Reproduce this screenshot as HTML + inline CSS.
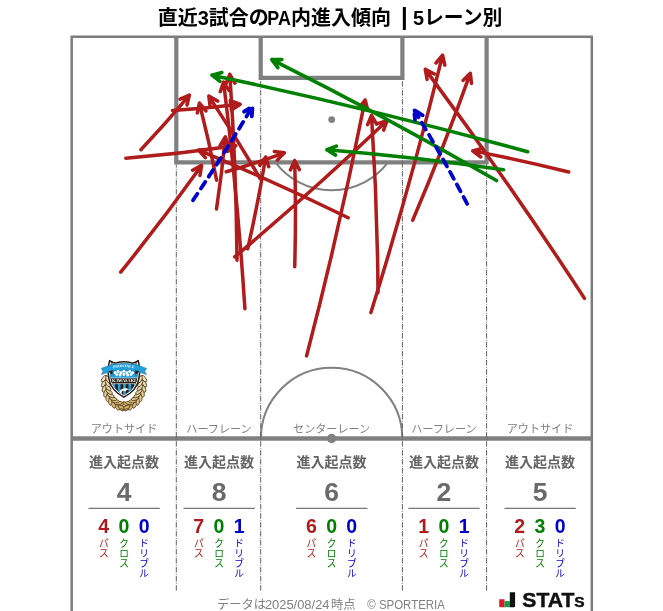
<!DOCTYPE html>
<html lang="ja">
<head>
<meta charset="utf-8">
<title>直近3試合のPA内進入傾向 | 5レーン別</title>
<style>
html,body{margin:0;padding:0;background:#fff;}
body{width:663px;height:611px;position:relative;overflow:hidden;font-family:"Liberation Sans", "Noto Sans CJK JP", sans-serif;}
</style>
</head>
<body>
<svg width="663" height="611" viewBox="0 0 663 611" style="display:block;position:absolute;left:0;top:0;will-change:transform">
<rect x="0" y="0" width="663" height="611" fill="#ffffff"/>
<g fill="none" stroke="#808080" stroke-linecap="butt" stroke-linejoin="miter">
<path d="M 260.9 438.5 A 70.7 70.7 0 0 1 402.3 438.5" stroke-width="2"/>
<path d="M 275.4 162.3 A 70.7 70.7 0 0 0 388.0 162.3" stroke-width="2"/>
<path d="M 71.7 616 L 71.7 36.75 L 591.8 36.75 L 591.8 616" stroke-width="2.5" stroke="#7c7c7c"/>
<path d="M 71.7 438.5 L 591.8 438.5" stroke-width="4.5"/>
<path d="M 176.3 36.75 L 176.3 162.3 L 486.6 162.3 L 486.6 36.75" stroke-width="4.2"/>
<path d="M 260.7 36.75 L 260.7 77.8 L 402.4 77.8 L 402.4 36.75" stroke-width="4.2"/>
</g>
<circle cx="331.7" cy="119.6" r="3.4" fill="#808080"/>
<circle cx="331.6" cy="438.5" r="4.7" fill="#808080"/>
<g fill="none" stroke="#606060" stroke-width="1.0" stroke-dasharray="5.43 1.36 0.85 1.36">
<path d="M 176.3 590.5 L 176.3 164.5"/>
<path d="M 486.6 590.5 L 486.6 164.5"/>
<path d="M 260.7 590.5 L 260.7 80.0"/>
<path d="M 402.4 590.5 L 402.4 80.0"/>
</g>
<path d="M 140.9 149.7 Q 166.0 123.2 189.4 95.1 M 187.0 105.0 L 189.4 95.1 L 180.1 99.2" fill="none" stroke="#b01b1b" stroke-width="3.5" stroke-linecap="round" stroke-linejoin="round"/>
<path d="M 125.8 158.2 Q 181.0 153.6 235.8 145.7 M 227.4 151.5 L 235.8 145.7 L 226.1 142.6" fill="none" stroke="#b01b1b" stroke-width="3.5" stroke-linecap="round" stroke-linejoin="round"/>
<path d="M 231.5 109.9 L 240.0 104.3 L 230.4 100.9 Z" fill="#b01b1b" stroke="#b01b1b" stroke-width="3.5" stroke-linejoin="round"/>
<path d="M 172.5 110.5 Q 206.3 108.4 240.0 104.3 M 231.5 109.9 L 240.0 104.3 L 230.4 100.9" fill="none" stroke="#b01b1b" stroke-width="3.5" stroke-linecap="round" stroke-linejoin="round"/>
<path d="M 120.7 272.2 Q 162.7 220.0 201.6 165.4 M 200.0 175.5 L 201.6 165.4 L 192.6 170.2" fill="none" stroke="#b01b1b" stroke-width="3.5" stroke-linecap="round" stroke-linejoin="round"/>
<path d="M 216.5 208.9 Q 222.0 173.0 225.3 136.9 M 229.0 146.4 L 225.3 136.9 L 220.0 145.6" fill="none" stroke="#b01b1b" stroke-width="3.5" stroke-linecap="round" stroke-linejoin="round"/>
<path d="M 244.9 308.7 Q 237.6 195.1 223.6 82.1 M 229.2 90.6 L 223.6 82.1 L 220.3 91.7" fill="none" stroke="#b01b1b" stroke-width="3.5" stroke-linecap="round" stroke-linejoin="round"/>
<path d="M 237.0 260.3 Q 236.2 167.2 229.8 74.3 M 234.9 83.1 L 229.8 74.3 L 226.0 83.7" fill="none" stroke="#b01b1b" stroke-width="3.5" stroke-linecap="round" stroke-linejoin="round"/>
<path d="M 234.7 256.9 Q 313.0 191.0 387.1 120.6 M 383.6 130.1 L 387.1 120.6 L 377.4 123.6" fill="none" stroke="#b01b1b" stroke-width="3.5" stroke-linecap="round" stroke-linejoin="round"/>
<path d="M 247.7 248.8 Q 258.1 203.2 265.7 157.0 M 268.7 166.7 L 265.7 157.0 L 259.8 165.3" fill="none" stroke="#b01b1b" stroke-width="3.5" stroke-linecap="round" stroke-linejoin="round"/>
<path d="M 226.2 171.8 Q 255.6 163.2 284.4 152.8 M 277.3 160.1 L 284.4 152.8 L 274.3 151.6" fill="none" stroke="#b01b1b" stroke-width="3.5" stroke-linecap="round" stroke-linejoin="round"/>
<path d="M 216.6 180.2 Q 209.2 141.4 199.4 103.1 M 206.0 110.8 L 199.4 103.1 L 197.3 113.0" fill="none" stroke="#b01b1b" stroke-width="3.5" stroke-linecap="round" stroke-linejoin="round"/>
<path d="M 260.1 178.5 Q 235.7 136.5 208.8 96.1 M 217.6 101.1 L 208.8 96.1 L 210.1 106.1" fill="none" stroke="#b01b1b" stroke-width="3.5" stroke-linecap="round" stroke-linejoin="round"/>
<path d="M 294.7 266.8 Q 296.2 213.7 294.7 160.6 M 299.4 169.6 L 294.7 160.6 L 290.4 169.9" fill="none" stroke="#b01b1b" stroke-width="3.5" stroke-linecap="round" stroke-linejoin="round"/>
<path d="M 306.6 355.9 Q 339.7 228.8 365.1 100.0 M 367.7 109.8 L 365.1 100.0 L 358.9 108.1" fill="none" stroke="#b01b1b" stroke-width="3.5" stroke-linecap="round" stroke-linejoin="round"/>
<path d="M 378.0 292.7 Q 377.4 203.9 371.5 115.3 M 376.6 124.1 L 371.5 115.3 L 367.6 124.7" fill="none" stroke="#b01b1b" stroke-width="3.5" stroke-linecap="round" stroke-linejoin="round"/>
<path d="M 370.9 312.6 Q 410.6 185.0 442.6 55.2 M 444.8 65.1 L 442.6 55.2 L 436.0 63.0" fill="none" stroke="#b01b1b" stroke-width="3.5" stroke-linecap="round" stroke-linejoin="round"/>
<path d="M 348.2 217.8 Q 274.4 181.7 198.6 150.1 M 208.7 149.4 L 198.6 150.1 L 205.3 157.7" fill="none" stroke="#b01b1b" stroke-width="3.5" stroke-linecap="round" stroke-linejoin="round"/>
<path d="M 412.7 220.2 Q 443.7 147.6 470.3 73.3 M 471.5 83.4 L 470.3 73.3 L 463.0 80.4" fill="none" stroke="#b01b1b" stroke-width="3.5" stroke-linecap="round" stroke-linejoin="round"/>
<path d="M 584.5 298.4 Q 508.4 181.5 425.3 69.4 M 434.4 74.0 L 425.3 69.4 L 427.1 79.4" fill="none" stroke="#b01b1b" stroke-width="3.5" stroke-linecap="round" stroke-linejoin="round"/>
<path d="M 568.7 172.0 Q 521.0 160.0 472.7 150.9 M 482.5 148.2 L 472.7 150.9 L 480.8 157.0" fill="none" stroke="#b01b1b" stroke-width="3.5" stroke-linecap="round" stroke-linejoin="round"/>
<path d="M 527.6 151.7 Q 371.0 108.7 212.0 75.2 M 221.8 72.6 L 212.0 75.2 L 220.0 81.4" fill="none" stroke="#008000" stroke-width="3.6" stroke-linecap="round" stroke-linejoin="round"/>
<path d="M 503.5 169.7 Q 415.5 157.1 326.9 149.8 M 336.4 146.1 L 326.9 149.8 L 335.6 155.1" fill="none" stroke="#008000" stroke-width="3.6" stroke-linecap="round" stroke-linejoin="round"/>
<path d="M 496.5 180.5 Q 385.9 116.7 271.8 59.6 M 281.9 59.6 L 271.8 59.6 L 277.9 67.7" fill="none" stroke="#008000" stroke-width="3.6" stroke-linecap="round" stroke-linejoin="round"/>
<path d="M 193.0 200.3 Q 224.2 154.1 252.6 106.2 M 251.8 116.3 L 252.6 106.2 L 244.1 111.7" fill="none" stroke="#0000cd" stroke-width="3.8" stroke-linecap="round" stroke-linejoin="round" stroke-dasharray="7.9 6.3"/>
<path d="M 467.2 203.9 Q 442.1 156.0 414.1 109.8 M 422.7 115.3 L 414.1 109.8 L 415.0 119.9" fill="none" stroke="#0000cd" stroke-width="3.8" stroke-linecap="round" stroke-linejoin="round" stroke-dasharray="7.9 6.3"/>
<g font-family='"Liberation Sans", "Noto Sans CJK JP", sans-serif'>
<text y="25.4" font-size="20" font-weight="700" fill="#000"><tspan x="157.7">直近3試合の</tspan><tspan x="267.3" textLength="23.6" lengthAdjust="spacingAndGlyphs">PA</tspan><tspan x="291.1">内進入傾向 </tspan><tspan x="401.0" font-size="24">|</tspan> <tspan x="413.0" textLength="89.4" lengthAdjust="spacingAndGlyphs">5レーン別</tspan></text>
<text x="124.0" y="432.6" font-size="11.1" fill="#7f7f7f" text-anchor="middle">アウトサイド</text>
<text x="124.0" y="466.8" font-size="14" font-weight="700" fill="#646464" text-anchor="middle">進入起点数</text>
<text x="124.0" y="500.9" font-size="26.5" font-weight="700" fill="#6a6a6a" text-anchor="middle">4</text>
<line x1="88.5" y1="508.3" x2="159.8" y2="508.3" stroke="#555" stroke-width="1"/>
<text x="103.8" y="533.0" font-size="19.5" font-weight="700" fill="#b01b1b" text-anchor="middle">4</text>
<text x="103.8" y="547.4" font-size="9.7" fill="#b01b1b" text-anchor="middle">パ</text>
<text x="103.8" y="557.1" font-size="9.7" fill="#b01b1b" text-anchor="middle">ス</text>
<text x="124.0" y="533.0" font-size="19.5" font-weight="700" fill="#008000" text-anchor="middle">0</text>
<text x="124.0" y="547.4" font-size="9.7" fill="#008000" text-anchor="middle">ク</text>
<text x="124.0" y="557.1" font-size="9.7" fill="#008000" text-anchor="middle">ロ</text>
<text x="124.0" y="566.8" font-size="9.7" fill="#008000" text-anchor="middle">ス</text>
<text x="144.2" y="533.0" font-size="19.5" font-weight="700" fill="#0000cd" text-anchor="middle">0</text>
<text x="144.2" y="547.4" font-size="9.7" fill="#0000cd" text-anchor="middle">ド</text>
<text x="144.2" y="557.1" font-size="9.7" fill="#0000cd" text-anchor="middle">リ</text>
<text x="144.2" y="566.8" font-size="9.7" fill="#0000cd" text-anchor="middle">ブ</text>
<text x="144.2" y="576.5" font-size="9.7" fill="#0000cd" text-anchor="middle">ル</text>
<text x="219.0" y="432.6" font-size="11.1" fill="#7f7f7f" text-anchor="middle">ハーフレーン</text>
<text x="219.0" y="466.8" font-size="14" font-weight="700" fill="#646464" text-anchor="middle">進入起点数</text>
<text x="219.0" y="500.9" font-size="26.5" font-weight="700" fill="#6a6a6a" text-anchor="middle">8</text>
<line x1="183.5" y1="508.3" x2="254.8" y2="508.3" stroke="#555" stroke-width="1"/>
<text x="198.8" y="533.0" font-size="19.5" font-weight="700" fill="#b01b1b" text-anchor="middle">7</text>
<text x="198.8" y="547.4" font-size="9.7" fill="#b01b1b" text-anchor="middle">パ</text>
<text x="198.8" y="557.1" font-size="9.7" fill="#b01b1b" text-anchor="middle">ス</text>
<text x="219.0" y="533.0" font-size="19.5" font-weight="700" fill="#008000" text-anchor="middle">0</text>
<text x="219.0" y="547.4" font-size="9.7" fill="#008000" text-anchor="middle">ク</text>
<text x="219.0" y="557.1" font-size="9.7" fill="#008000" text-anchor="middle">ロ</text>
<text x="219.0" y="566.8" font-size="9.7" fill="#008000" text-anchor="middle">ス</text>
<text x="239.2" y="533.0" font-size="19.5" font-weight="700" fill="#0000cd" text-anchor="middle">1</text>
<text x="239.2" y="547.4" font-size="9.7" fill="#0000cd" text-anchor="middle">ド</text>
<text x="239.2" y="557.1" font-size="9.7" fill="#0000cd" text-anchor="middle">リ</text>
<text x="239.2" y="566.8" font-size="9.7" fill="#0000cd" text-anchor="middle">ブ</text>
<text x="239.2" y="576.5" font-size="9.7" fill="#0000cd" text-anchor="middle">ル</text>
<text x="331.6" y="432.6" font-size="11.1" fill="#7f7f7f" text-anchor="middle">センターレーン</text>
<text x="331.6" y="466.8" font-size="14" font-weight="700" fill="#646464" text-anchor="middle">進入起点数</text>
<text x="331.6" y="500.9" font-size="26.5" font-weight="700" fill="#6a6a6a" text-anchor="middle">6</text>
<line x1="296.1" y1="508.3" x2="367.40000000000003" y2="508.3" stroke="#555" stroke-width="1"/>
<text x="311.4" y="533.0" font-size="19.5" font-weight="700" fill="#b01b1b" text-anchor="middle">6</text>
<text x="311.4" y="547.4" font-size="9.7" fill="#b01b1b" text-anchor="middle">パ</text>
<text x="311.4" y="557.1" font-size="9.7" fill="#b01b1b" text-anchor="middle">ス</text>
<text x="331.6" y="533.0" font-size="19.5" font-weight="700" fill="#008000" text-anchor="middle">0</text>
<text x="331.6" y="547.4" font-size="9.7" fill="#008000" text-anchor="middle">ク</text>
<text x="331.6" y="557.1" font-size="9.7" fill="#008000" text-anchor="middle">ロ</text>
<text x="331.6" y="566.8" font-size="9.7" fill="#008000" text-anchor="middle">ス</text>
<text x="351.8" y="533.0" font-size="19.5" font-weight="700" fill="#0000cd" text-anchor="middle">0</text>
<text x="351.8" y="547.4" font-size="9.7" fill="#0000cd" text-anchor="middle">ド</text>
<text x="351.8" y="557.1" font-size="9.7" fill="#0000cd" text-anchor="middle">リ</text>
<text x="351.8" y="566.8" font-size="9.7" fill="#0000cd" text-anchor="middle">ブ</text>
<text x="351.8" y="576.5" font-size="9.7" fill="#0000cd" text-anchor="middle">ル</text>
<text x="443.9" y="432.6" font-size="11.1" fill="#7f7f7f" text-anchor="middle">ハーフレーン</text>
<text x="443.9" y="466.8" font-size="14" font-weight="700" fill="#646464" text-anchor="middle">進入起点数</text>
<text x="443.9" y="500.9" font-size="26.5" font-weight="700" fill="#6a6a6a" text-anchor="middle">2</text>
<line x1="408.4" y1="508.3" x2="479.7" y2="508.3" stroke="#555" stroke-width="1"/>
<text x="423.7" y="533.0" font-size="19.5" font-weight="700" fill="#b01b1b" text-anchor="middle">1</text>
<text x="423.7" y="547.4" font-size="9.7" fill="#b01b1b" text-anchor="middle">パ</text>
<text x="423.7" y="557.1" font-size="9.7" fill="#b01b1b" text-anchor="middle">ス</text>
<text x="443.9" y="533.0" font-size="19.5" font-weight="700" fill="#008000" text-anchor="middle">0</text>
<text x="443.9" y="547.4" font-size="9.7" fill="#008000" text-anchor="middle">ク</text>
<text x="443.9" y="557.1" font-size="9.7" fill="#008000" text-anchor="middle">ロ</text>
<text x="443.9" y="566.8" font-size="9.7" fill="#008000" text-anchor="middle">ス</text>
<text x="464.1" y="533.0" font-size="19.5" font-weight="700" fill="#0000cd" text-anchor="middle">1</text>
<text x="464.1" y="547.4" font-size="9.7" fill="#0000cd" text-anchor="middle">ド</text>
<text x="464.1" y="557.1" font-size="9.7" fill="#0000cd" text-anchor="middle">リ</text>
<text x="464.1" y="566.8" font-size="9.7" fill="#0000cd" text-anchor="middle">ブ</text>
<text x="464.1" y="576.5" font-size="9.7" fill="#0000cd" text-anchor="middle">ル</text>
<text x="540.0" y="432.6" font-size="11.1" fill="#7f7f7f" text-anchor="middle">アウトサイド</text>
<text x="540.0" y="466.8" font-size="14" font-weight="700" fill="#646464" text-anchor="middle">進入起点数</text>
<text x="540.0" y="500.9" font-size="26.5" font-weight="700" fill="#6a6a6a" text-anchor="middle">5</text>
<line x1="504.5" y1="508.3" x2="575.8" y2="508.3" stroke="#555" stroke-width="1"/>
<text x="519.8" y="533.0" font-size="19.5" font-weight="700" fill="#b01b1b" text-anchor="middle">2</text>
<text x="519.8" y="547.4" font-size="9.7" fill="#b01b1b" text-anchor="middle">パ</text>
<text x="519.8" y="557.1" font-size="9.7" fill="#b01b1b" text-anchor="middle">ス</text>
<text x="540.0" y="533.0" font-size="19.5" font-weight="700" fill="#008000" text-anchor="middle">3</text>
<text x="540.0" y="547.4" font-size="9.7" fill="#008000" text-anchor="middle">ク</text>
<text x="540.0" y="557.1" font-size="9.7" fill="#008000" text-anchor="middle">ロ</text>
<text x="540.0" y="566.8" font-size="9.7" fill="#008000" text-anchor="middle">ス</text>
<text x="560.2" y="533.0" font-size="19.5" font-weight="700" fill="#0000cd" text-anchor="middle">0</text>
<text x="560.2" y="547.4" font-size="9.7" fill="#0000cd" text-anchor="middle">ド</text>
<text x="560.2" y="557.1" font-size="9.7" fill="#0000cd" text-anchor="middle">リ</text>
<text x="560.2" y="566.8" font-size="9.7" fill="#0000cd" text-anchor="middle">ブ</text>
<text x="560.2" y="576.5" font-size="9.7" fill="#0000cd" text-anchor="middle">ル</text>
<text y="608.6" font-size="12.3" fill="#808080"><tspan x="216.9">データは</tspan><tspan x="264.9" textLength="64.6" lengthAdjust="spacingAndGlyphs">2025/08/24</tspan><tspan x="331.0">時点</tspan><tspan x="367.3" font-size="12" textLength="77.6" lengthAdjust="spacingAndGlyphs">© SPORTERIA</tspan></text>
</g>
<path d="M 499.2 599.3 H 504.5 V 607.2 H 500.4 Q 499.2 607.2 499.2 606 Z" fill="#e21b23"/>
<rect x="504.5" y="601.1" width="5.3" height="6.1" fill="#169a48"/>
<path d="M 509.8 592.3 H 515.1 V 606 Q 515.1 607.2 513.9 607.2 H 509.8 Z" fill="#111"/>
<text x="522.3" y="607.1" font-family='"Liberation Sans", sans-serif' font-weight="700" fill="#111" stroke="#111" stroke-width="0.45" font-size="20.3" textLength="62.4" lengthAdjust="spacingAndGlyphs">STAT<tspan font-size="14.9">S</tspan></text>
<g id="emblem">
<ellipse cx="120.8" cy="408.1" rx="3.9" ry="1.7" transform="rotate(-141 120.8 408.1)" fill="#d4b46c" stroke="#4a3416" stroke-width="0.75"/>
<ellipse cx="121.5" cy="404.1" rx="3.9" ry="1.7" transform="rotate(-201 121.5 404.1)" fill="#d4b46c" stroke="#4a3416" stroke-width="0.75"/>
<ellipse cx="116.9" cy="406.8" rx="3.9" ry="1.7" transform="rotate(-127 116.9 406.8)" fill="#d7b976" stroke="#4a3416" stroke-width="0.75"/>
<ellipse cx="118.3" cy="403.1" rx="3.9" ry="1.7" transform="rotate(-187 118.3 403.1)" fill="#d7b976" stroke="#4a3416" stroke-width="0.75"/>
<ellipse cx="113.3" cy="404.6" rx="3.9" ry="1.7" transform="rotate(-114 113.3 404.6)" fill="#dabf80" stroke="#4a3416" stroke-width="0.75"/>
<ellipse cx="115.4" cy="401.2" rx="3.9" ry="1.7" transform="rotate(-174 115.4 401.2)" fill="#dabf80" stroke="#4a3416" stroke-width="0.75"/>
<ellipse cx="110.1" cy="401.5" rx="3.9" ry="1.7" transform="rotate(-102 110.1 401.5)" fill="#ddc58a" stroke="#4a3416" stroke-width="0.75"/>
<ellipse cx="112.9" cy="398.6" rx="3.9" ry="1.7" transform="rotate(-162 112.9 398.6)" fill="#ddc58a" stroke="#4a3416" stroke-width="0.75"/>
<ellipse cx="107.5" cy="397.7" rx="3.9" ry="1.7" transform="rotate(-91 107.5 397.7)" fill="#e1cb95" stroke="#4a3416" stroke-width="0.75"/>
<ellipse cx="110.7" cy="395.4" rx="3.9" ry="1.7" transform="rotate(-151 110.7 395.4)" fill="#e1cb95" stroke="#4a3416" stroke-width="0.75"/>
<ellipse cx="105.5" cy="393.4" rx="3.9" ry="1.7" transform="rotate(-81 105.5 393.4)" fill="#e4d09f" stroke="#4a3416" stroke-width="0.75"/>
<ellipse cx="109.1" cy="391.7" rx="3.9" ry="1.7" transform="rotate(-141 109.1 391.7)" fill="#e4d09f" stroke="#4a3416" stroke-width="0.75"/>
<ellipse cx="104.2" cy="388.6" rx="3.9" ry="1.7" transform="rotate(-72 104.2 388.6)" fill="#e7d6a9" stroke="#4a3416" stroke-width="0.75"/>
<ellipse cx="108.1" cy="387.7" rx="3.9" ry="1.7" transform="rotate(-132 108.1 387.7)" fill="#e7d6a9" stroke="#4a3416" stroke-width="0.75"/>
<ellipse cx="103.7" cy="383.6" rx="3.9" ry="1.7" transform="rotate(-63 103.7 383.6)" fill="#eadcb3" stroke="#4a3416" stroke-width="0.75"/>
<ellipse cx="107.7" cy="383.5" rx="3.9" ry="1.7" transform="rotate(-123 107.7 383.5)" fill="#eadcb3" stroke="#4a3416" stroke-width="0.75"/>
<ellipse cx="104.0" cy="378.6" rx="3.9" ry="1.7" transform="rotate(-54 104.0 378.6)" fill="#eee2be" stroke="#4a3416" stroke-width="0.75"/>
<ellipse cx="107.9" cy="379.3" rx="3.9" ry="1.7" transform="rotate(-114 107.9 379.3)" fill="#eee2be" stroke="#4a3416" stroke-width="0.75"/>
<ellipse cx="127.2" cy="408.1" rx="3.9" ry="1.7" transform="rotate(321 127.2 408.1)" fill="#d4b46c" stroke="#4a3416" stroke-width="0.75"/>
<ellipse cx="126.5" cy="404.1" rx="3.9" ry="1.7" transform="rotate(381 126.5 404.1)" fill="#d4b46c" stroke="#4a3416" stroke-width="0.75"/>
<ellipse cx="131.1" cy="406.8" rx="3.9" ry="1.7" transform="rotate(307 131.1 406.8)" fill="#d7b976" stroke="#4a3416" stroke-width="0.75"/>
<ellipse cx="129.7" cy="403.1" rx="3.9" ry="1.7" transform="rotate(367 129.7 403.1)" fill="#d7b976" stroke="#4a3416" stroke-width="0.75"/>
<ellipse cx="134.7" cy="404.6" rx="3.9" ry="1.7" transform="rotate(294 134.7 404.6)" fill="#dabf80" stroke="#4a3416" stroke-width="0.75"/>
<ellipse cx="132.6" cy="401.2" rx="3.9" ry="1.7" transform="rotate(354 132.6 401.2)" fill="#dabf80" stroke="#4a3416" stroke-width="0.75"/>
<ellipse cx="137.9" cy="401.5" rx="3.9" ry="1.7" transform="rotate(282 137.9 401.5)" fill="#ddc58a" stroke="#4a3416" stroke-width="0.75"/>
<ellipse cx="135.1" cy="398.6" rx="3.9" ry="1.7" transform="rotate(342 135.1 398.6)" fill="#ddc58a" stroke="#4a3416" stroke-width="0.75"/>
<ellipse cx="140.5" cy="397.7" rx="3.9" ry="1.7" transform="rotate(271 140.5 397.7)" fill="#e1cb95" stroke="#4a3416" stroke-width="0.75"/>
<ellipse cx="137.3" cy="395.4" rx="3.9" ry="1.7" transform="rotate(331 137.3 395.4)" fill="#e1cb95" stroke="#4a3416" stroke-width="0.75"/>
<ellipse cx="142.5" cy="393.4" rx="3.9" ry="1.7" transform="rotate(261 142.5 393.4)" fill="#e4d09f" stroke="#4a3416" stroke-width="0.75"/>
<ellipse cx="138.9" cy="391.7" rx="3.9" ry="1.7" transform="rotate(321 138.9 391.7)" fill="#e4d09f" stroke="#4a3416" stroke-width="0.75"/>
<ellipse cx="143.8" cy="388.6" rx="3.9" ry="1.7" transform="rotate(252 143.8 388.6)" fill="#e7d6a9" stroke="#4a3416" stroke-width="0.75"/>
<ellipse cx="139.9" cy="387.7" rx="3.9" ry="1.7" transform="rotate(312 139.9 387.7)" fill="#e7d6a9" stroke="#4a3416" stroke-width="0.75"/>
<ellipse cx="144.3" cy="383.6" rx="3.9" ry="1.7" transform="rotate(243 144.3 383.6)" fill="#eadcb3" stroke="#4a3416" stroke-width="0.75"/>
<ellipse cx="140.3" cy="383.5" rx="3.9" ry="1.7" transform="rotate(303 140.3 383.5)" fill="#eadcb3" stroke="#4a3416" stroke-width="0.75"/>
<ellipse cx="144.0" cy="378.6" rx="3.9" ry="1.7" transform="rotate(234 144.0 378.6)" fill="#eee2be" stroke="#4a3416" stroke-width="0.75"/>
<ellipse cx="140.1" cy="379.3" rx="3.9" ry="1.7" transform="rotate(294 140.1 379.3)" fill="#eee2be" stroke="#4a3416" stroke-width="0.75"/>
<ellipse cx="121.2" cy="407.2" rx="3.4" ry="1.7" transform="rotate(22 121.2 407.2)" fill="#d4b46c" stroke="#4a3416" stroke-width="0.75"/>
<ellipse cx="126.8" cy="407.2" rx="3.4" ry="1.7" transform="rotate(158 126.8 407.2)" fill="#d4b46c" stroke="#4a3416" stroke-width="0.75"/>
<path d="M 109.6 360.6 Q 112.8 363.6 116.8 362.8 Q 123.9 360.9 131.0 362.8 Q 135.0 363.6 138.2 360.6 C 139.7 366 139.8 374 138.8 379 C 137.4 387.4 131.6 393.2 123.9 397.2 C 116.2 393.2 110.4 387.4 109.0 379 C 108.0 374 108.1 366 109.6 360.6 Z" fill="#fff" stroke="#2a1c12" stroke-width="1.5" stroke-linejoin="round"/>
<clipPath id="shc"><path d="M 111.0 363.3 Q 113.2 364.9 116.9 364.3 Q 123.9 362.6 130.9 364.3 Q 134.6 364.9 136.8 363.3 C 137.9 367 138.0 374 137.1 378.8 C 135.8 386.4 130.6 391.6 123.9 395.2 C 117.2 391.6 112.0 386.4 110.7 378.8 C 109.8 374 109.9 367 111.0 363.3 Z"/></clipPath>
<g clip-path="url(#shc)">
<rect x="106" y="358" width="36" height="42" fill="#2a1c12"/>
<rect x="106" y="358" width="36" height="20.4" fill="#23a0dc"/>
<rect x="112.6" y="383.4" width="2.6" height="14" fill="#23a0dc"/>
<rect x="117.9" y="383.4" width="2.6" height="14" fill="#23a0dc"/>
<rect x="123.2" y="383.4" width="2.6" height="14" fill="#23a0dc"/>
<rect x="128.5" y="383.4" width="2.6" height="14" fill="#23a0dc"/>
<rect x="133.8" y="383.4" width="2.6" height="14" fill="#23a0dc"/>
<rect x="106" y="378.2" width="36" height="5.4" fill="#2a1c12"/>
<rect x="106" y="377.7" width="36" height="0.6" fill="#fff"/>
<rect x="106" y="383.5" width="36" height="0.6" fill="#fff"/>
<path d="M 119.6 391.6 C 120.6 388.2 126 387.0 129.6 389.6 C 127.4 389.5 126.2 390.2 125.4 391.4 C 124.2 390.6 122.2 390.4 121.6 392.0 C 121.4 393.4 122.2 394.2 121.4 394.9 C 120.4 394.2 119.4 393.0 119.6 391.6 Z" fill="#fff"/>
</g>
<path d="M 101.2 368.4 Q 112 363.4 123.9 363.4 Q 135.8 363.4 146.6 368.4 L 144.7 371.3 L 146.4 374.6 Q 135.5 369.9 123.9 369.9 Q 112.3 369.9 101.4 374.6 L 103.1 371.3 Z" fill="#23a0dc" stroke="#1c6fa3" stroke-width="0.5" stroke-linejoin="round"/>
<path d="M 108.4 371.6 L 112.6 370.2 L 112.4 375.0 Z" fill="#2a1c12"/>
<path d="M 139.4 371.6 L 135.2 370.2 L 135.4 375.0 Z" fill="#2a1c12"/>
<circle cx="115.2" cy="372.7" r="1.45" fill="#fff"/>
<circle cx="118.1" cy="371.5" r="1.45" fill="#fff"/>
<circle cx="121.0" cy="372.8" r="1.45" fill="#fff"/>
<circle cx="123.9" cy="371.3" r="1.45" fill="#fff"/>
<circle cx="126.8" cy="372.8" r="1.45" fill="#fff"/>
<circle cx="129.7" cy="371.5" r="1.45" fill="#fff"/>
<circle cx="132.6" cy="372.7" r="1.45" fill="#fff"/>
<circle cx="116.8" cy="374.6" r="1.45" fill="#fff"/>
<circle cx="120.0" cy="375.0" r="1.45" fill="#fff"/>
<circle cx="123.9" cy="374.5" r="1.45" fill="#fff"/>
<circle cx="127.8" cy="375.0" r="1.45" fill="#fff"/>
<circle cx="131.0" cy="374.6" r="1.45" fill="#fff"/>
<path id="rbp" d="M 113.3 368.3 Q 123.9 365.7 134.5 368.3" fill="none"/>
<text font-family='"Liberation Serif", serif' font-size="3.4" font-weight="700" fill="#fff"><textPath href="#rbp" textLength="21" lengthAdjust="spacingAndGlyphs">FRONTALE</textPath></text>
<text x="112.0" y="382.2" font-family='"Liberation Serif", serif' font-size="4.2" font-weight="700" fill="#fff" textLength="23.8" lengthAdjust="spacingAndGlyphs">KAWASAKI</text>
</g>
</svg>
</body>
</html>
